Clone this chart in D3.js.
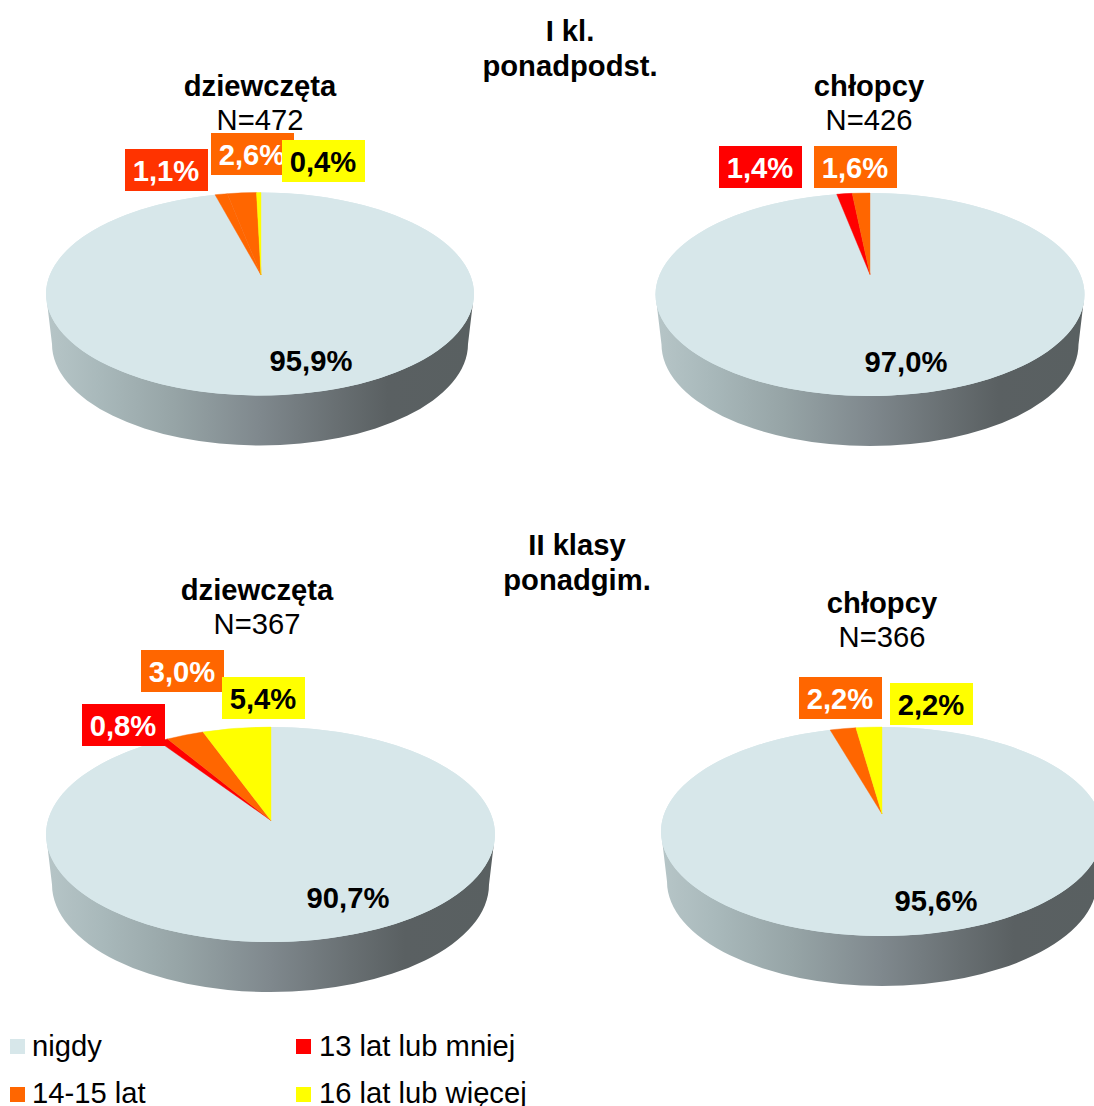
<!DOCTYPE html>
<html><head><meta charset="utf-8">
<style>html,body{margin:0;padding:0;background:#fff;overflow:hidden}svg{display:block}text{font-family:"Liberation Sans",Arial,sans-serif;font-size:29.2px}</style>
<script src="https://cdn.jsdelivr.net/npm/d3@7/dist/d3.min.js"></script>
</head><body><svg id="c" width="1094" height="1106"></svg>
<script>
const categories = ["nigdy", "13 lat lub mniej", "14-15 lat", "16 lat lub więcej"];
const valuesGirlsI = [95.9, 1.1, 2.6, 0.4];
const valuesBoysI = [97.0, 1.4, 1.6, 0];
const valuesGirlsII = [90.7, 0.8, 3.0, 5.4];
const valuesBoysII = [95.6, 0, 2.2, 2.2];
const colors = ["#d7e7ea", "#ff0000", "#ff6600", "#ffff00"];
const labelColors = [null, "#ff0000", "#ff6600", "#ffff00"];
const labelTextColors = ["#000", "#fff", "#fff", "#000"];
const fmt = v => v.toFixed(1).replace(".", ",") + "%";

const pies = [
  {values: valuesGirlsI, name: "dziewczęta", n: "N=472", cx: 260, cy: 294, rx: 214, ry: 101.5, ax: 261, ay: 275, depth: 50,
   tx: 260, ty: 96, big: [311, 370.5], boxes: [null, [125,149], [211,133], [282,140]],
   wedge: ["#d7e7ea", "#ff6600", "#ff6600", "#ffff00"], label: {1: "#ff3300"}},
  {values: valuesBoysI, name: "chłopcy", n: "N=426", cx: 870, cy: 294.5, rx: 214.5, ry: 101.5, ax: 870, ay: 274.5, depth: 50,
   tx: 869, ty: 96, big: [906, 372], boxes: [null, [719,146], [814,146], null]},
  {values: valuesGirlsII, name: "dziewczęta", n: "N=367", cx: 270.5, cy: 834.5, rx: 224.5, ry: 107.5, ax: 271, ay: 820.5, depth: 50,
   tx: 257, ty: 600, big: [348, 908], boxes: [null, [82,704], [141,650], [222,677]]},
  {values: valuesBoysII, name: "chłopcy", n: "N=366", cx: 882, cy: 831.5, rx: 221, ry: 104.5, ax: 882, ay: 814, depth: 50,
   tx: 882, ty: 613, big: [936, 911], boxes: [null, null, [799,677], [890,683]]}
];
const headings = [["I kl.", 570, 41], ["ponadpodst.", 570, 76], ["II klasy", 577, 555], ["ponadgim.", 577, 590]];
const legendItems = [[0, 10, 1039, 32, 1056], [1, 296, 1039, 319, 1056], [2, 10, 1087, 32, 1103], [3, 296, 1087, 319, 1103]];

const tilt = 0.46, boxW = 83, boxH = 42, shrink = 6;
const svg = d3.select("#c");
const grad = svg.append("defs").append("linearGradient").attr("id", "side");
[[0,"#b6c5c7"],[0.12,"#a9b9bb"],[0.3,"#96a4a6"],[0.5,"#7f888d"],[0.68,"#686f72"],[0.8,"#5a6062"],[1,"#596061"]]
  .forEach(([o,c]) => grad.append("stop").attr("offset", o).attr("stop-color", c));

const pieGen = d3.pie().sort(null).value(d => d);

function rim(p, a) {
  const dx = Math.sin(a), dy = -Math.cos(a) * tilt;
  const ox = (p.ax - p.cx) / p.rx, oy = (p.ay - p.cy) / p.ry;
  const ux = dx / p.rx, uy = dy / p.ry;
  const A = ux*ux + uy*uy, B = 2*(ox*ux + oy*uy), C = ox*ox + oy*oy - 1;
  const t = (-B + Math.sqrt(B*B - 4*A*C)) / (2*A);
  return [p.ax + dx*t, p.ay + dy*t];
}

pies.forEach(p => {
  const g = svg.append("g");
  const cy2 = p.cy + p.depth, rx2 = p.rx - shrink;
  g.append("path").attr("fill", "url(#side)").attr("d",
    `M${p.cx-p.rx+1},${p.cy+8}L${p.cx-rx2},${cy2}A${rx2},${p.ry} 0 0 0 ${p.cx+rx2},${cy2}L${p.cx+p.rx-1},${p.cy+8}Z`);
  g.append("ellipse").attr("cx", p.cx).attr("cy", p.cy).attr("rx", p.rx).attr("ry", p.ry).attr("fill", colors[0]);
  g.selectAll("path.slice").data(pieGen(p.values)).join("path").attr("class", "slice")
    .attr("fill", (d,i) => (p.wedge || colors)[i])
    .attr("stroke", (d,i) => i ? (p.wedge || colors)[i] : "none")
    .attr("stroke-width", 0.4)
    .attr("d", d => {
      if (d.endAngle - d.startAngle <= 0) return null;
      const s = rim(p, d.startAngle), e = rim(p, d.endAngle);
      const large = d.endAngle - d.startAngle > Math.PI ? 1 : 0;
      return `M${p.ax},${p.ay}L${s[0]},${s[1]}A${p.rx},${p.ry} 0 ${large} 1 ${e[0]},${e[1]}Z`;
    });
  g.append("text").attr("x", p.big[0]).attr("y", p.big[1]).attr("text-anchor", "middle")
    .attr("font-weight", "bold").attr("fill", "#000").text(fmt(p.values[0]));
  p.boxes.forEach((b, i) => {
    if (!b) return;
    g.append("rect").attr("x", b[0]).attr("y", b[1]).attr("width", boxW).attr("height", boxH)
      .attr("fill", (p.label && p.label[i]) || labelColors[i]);
    g.append("text").attr("x", b[0] + boxW/2 - 0.5).attr("y", b[1] + 31.5).attr("text-anchor", "middle")
      .attr("font-weight", "bold").attr("fill", labelTextColors[i]).text(fmt(p.values[i]));
  });
  g.append("text").attr("x", p.tx).attr("y", p.ty).attr("text-anchor", "middle").attr("font-weight", "bold").text(p.name);
  g.append("text").attr("x", p.tx).attr("y", p.ty + 34).attr("text-anchor", "middle").text(p.n);
});

headings.forEach(([t,x,y]) => svg.append("text").attr("x", x).attr("y", y).attr("text-anchor", "middle").attr("font-weight", "bold").text(t));
legendItems.forEach(([i,sx,sy,tx,ty]) => {
  svg.append("rect").attr("x", sx).attr("y", sy).attr("width", 15).attr("height", 15).attr("fill", colors[i]);
  svg.append("text").attr("x", tx).attr("y", ty).attr("fill", "#000").text(categories[i]);
});
</script></body></html>
